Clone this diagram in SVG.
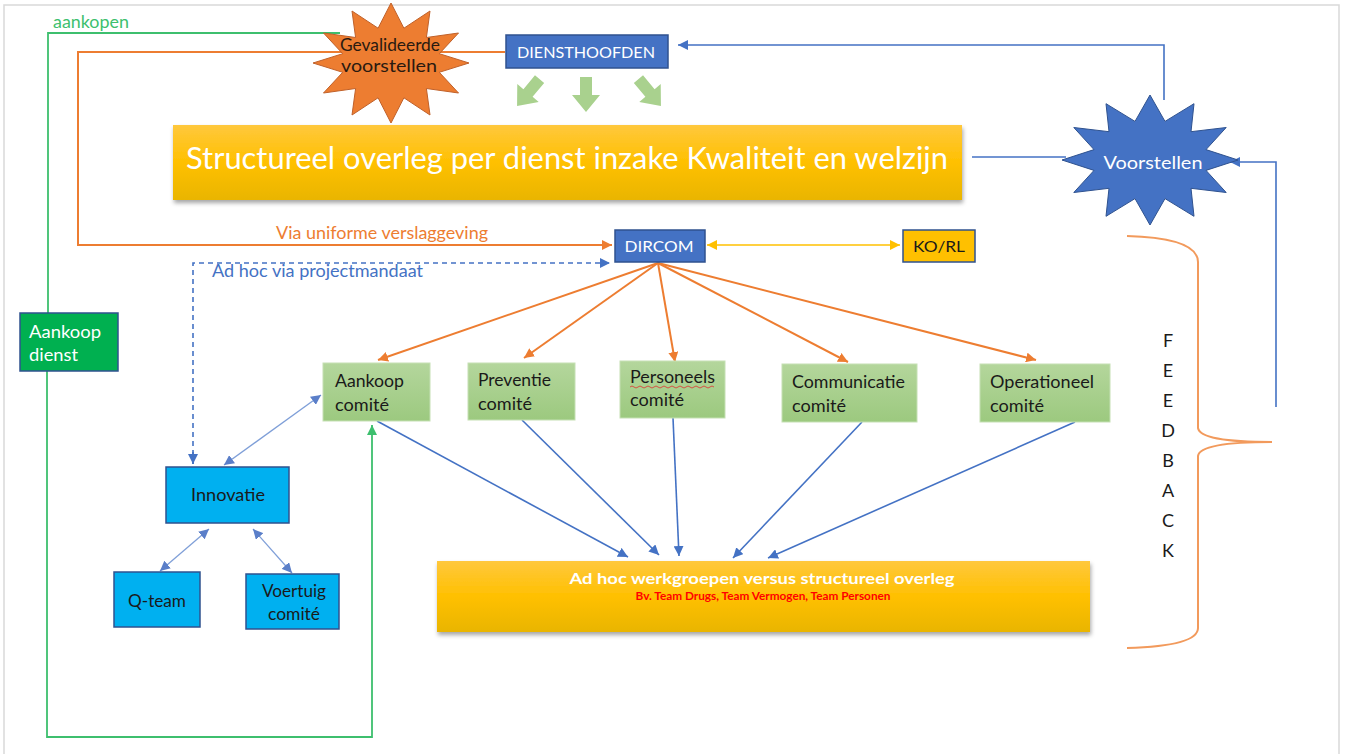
<svg xmlns="http://www.w3.org/2000/svg" width="1345" height="754" viewBox="0 0 1345 754">
<style>
text{font-family:Lato,"Liberation Sans","Open Sans",Arial,sans-serif}
.lbl{font-size:17.5px;fill:#1a1a1a}
.wht{fill:#ffffff}
.org{fill:none;stroke:#ED7D31;stroke-width:2}
.blu{fill:none;stroke:#4472C4;stroke-width:1.6}
.lblu{fill:none;stroke:#7F9FD8;stroke-width:1.3}
.grn{fill:none;stroke:#3DBF6E;stroke-width:1.8}
.bluebox{fill:#4472C4;stroke:#2F528F;stroke-width:1.5}
.cbox{fill:url(#gg);stroke:#C5E0B4;stroke-width:1}
.cyan{fill:#00B0F0;stroke:#2F528F;stroke-width:1.5}
</style>
<defs>
<linearGradient id="yg" x1="0" y1="0" x2="0" y2="1">
<stop offset="0" stop-color="#FFC83D"/><stop offset="0.5" stop-color="#FFC000"/><stop offset="1" stop-color="#E9B500"/>
</linearGradient>
<linearGradient id="gg" x1="0" y1="0" x2="0" y2="1">
<stop offset="0" stop-color="#B4D69C"/><stop offset="1" stop-color="#9CC97F"/>
</linearGradient>
<filter id="sh" x="-5%" y="-10%" width="110%" height="130%">
<feDropShadow dx="1" dy="3" stdDeviation="2" flood-color="#000" flood-opacity="0.35"/>
</filter>
<marker id="ao" markerUnits="userSpaceOnUse" markerWidth="12" markerHeight="10" refX="10" refY="5" orient="auto"><path d="M0,0 L10,5 L0,10 Z" fill="#ED7D31"/></marker>
<marker id="ab" markerUnits="userSpaceOnUse" markerWidth="12" markerHeight="10" refX="10" refY="5" orient="auto"><path d="M0,0 L10,5 L0,10 Z" fill="#4472C4"/></marker>
<marker id="alb" markerUnits="userSpaceOnUse" markerWidth="12" markerHeight="10" refX="10" refY="5" orient="auto-start-reverse"><path d="M0,0 L10,5 L0,10 Z" fill="#5B7FC9"/></marker>
<marker id="ay" markerUnits="userSpaceOnUse" markerWidth="12" markerHeight="10" refX="10" refY="5" orient="auto-start-reverse"><path d="M0,0 L10,5 L0,10 Z" fill="#FFC000"/></marker>
<marker id="ag" markerUnits="userSpaceOnUse" markerWidth="12" markerHeight="10" refX="10" refY="5" orient="auto"><path d="M0,0 L10,5 L0,10 Z" fill="#3DBF6E"/></marker>
<path id="barrow" d="M-6,-18 L6,-18 L6,0 L14,0 L0,17 L-14,0 L-6,0 Z" fill="#A9D18E"/>
</defs>
<rect x="0" y="0" width="1345" height="754" fill="#ffffff"/>
<rect x="4" y="5" width="1335" height="760" fill="none" stroke="#d9d9d9" stroke-width="1.5"/>

<g id="connectors">
<polyline class="grn" points="340,33 48,33 48,314"/>
<polyline class="grn" points="47,371 47,737 372,737 372,425" marker-end="url(#ag)"/>
<text x="53" y="28" font-size="17" fill="#3DBF6E" textLength="76" lengthAdjust="spacingAndGlyphs">aankopen</text>
<polyline class="org" points="505,52 78,52 78,245 612,245" marker-end="url(#ao)"/>
<text x="276" y="239" font-size="17" fill="#ED7D31" textLength="212" lengthAdjust="spacingAndGlyphs">Via uniforme verslaggeving</text>
<polyline class="blu" stroke-dasharray="5,4" points="193,464 193,263 610,263" marker-end="url(#ab)"/>
<path class="blu" d="M193,452 L193,464" marker-end="url(#ab)"/>
<text x="212" y="277" font-size="17" fill="#4472C4" textLength="211" lengthAdjust="spacingAndGlyphs">Ad hoc via projectmandaat</text>
<line x1="707" y1="245" x2="900" y2="245" stroke="#FFC000" stroke-width="1.6" marker-start="url(#ay)" marker-end="url(#ay)"/>
<line class="blu" x1="972" y1="157" x2="1066" y2="157"/>
<polyline class="blu" points="1164,100 1164,45 678,45" marker-end="url(#ab)"/>
<polyline class="blu" points="1276,407 1276,162 1230,162" marker-end="url(#ab)"/>
<line class="org" x1="658" y1="263" x2="378" y2="360" marker-end="url(#ao)"/>
<line class="org" x1="658" y1="263" x2="524" y2="358" marker-end="url(#ao)"/>
<line class="org" x1="658" y1="263" x2="675" y2="362" marker-end="url(#ao)"/>
<line class="org" x1="658" y1="263" x2="848" y2="362" marker-end="url(#ao)"/>
<line class="org" x1="658" y1="263" x2="1036" y2="360" marker-end="url(#ao)"/>
<line class="blu" x1="377" y1="421" x2="628" y2="557" marker-end="url(#ab)"/>
<line class="blu" x1="522" y1="420" x2="659" y2="555" marker-end="url(#ab)"/>
<line class="blu" x1="673" y1="418" x2="679" y2="556" marker-end="url(#ab)"/>
<line class="blu" x1="862" y1="422" x2="733" y2="558" marker-end="url(#ab)"/>
<line class="blu" x1="1075" y1="422" x2="768" y2="558" marker-end="url(#ab)"/>
<line class="lblu" x1="224" y1="465" x2="321" y2="395" marker-start="url(#alb)" marker-end="url(#alb)"/>
<line class="lblu" x1="160" y1="571" x2="209" y2="529" marker-start="url(#alb)" marker-end="url(#alb)"/>
<line class="lblu" x1="292" y1="573" x2="253" y2="529" marker-start="url(#alb)" marker-end="url(#alb)"/>
<path d="M1127,236 Q1198,238 1198,262 L1198,428 Q1200,442 1272,442 Q1200,442 1198,456 L1198,628 Q1198,646 1127,648" fill="none" stroke="#F29A5C" stroke-width="2"/>
</g>

<g id="gevalideerde">
<polygon points="391,3 403.9,28.2 430,11 426.4,37.5 458.5,33 439.3,53.7 469,63 439.3,72.3 458.5,93 426.4,88.5 430,115 403.9,97.8 391,123 378.1,97.8 352,115 355.6,88.5 323.5,93 342.7,72.3 313,63 342.7,53.7 323.5,33 355.6,37.5 352,11 378.1,28.2" fill="#ED7D31" stroke="#C0612A" stroke-width="1"/>
<text x="390" y="51" font-size="16.5" fill="#2a1a10" text-anchor="middle" textLength="100" lengthAdjust="spacingAndGlyphs">Gevalideerde</text>
<text x="389" y="72" font-size="16.5" fill="#2a1a10" text-anchor="middle" textLength="96" lengthAdjust="spacingAndGlyphs">voorstellen</text>
</g>

<g id="diensthoofden">
<rect class="bluebox" x="506" y="35" width="162" height="33"/>
<text x="586" y="58" font-size="15.5" class="wht" text-anchor="middle" textLength="138" lengthAdjust="spacingAndGlyphs">DIENSTHOOFDEN</text>
<use href="#barrow" transform="translate(528,93) rotate(40)"/>
<use href="#barrow" transform="translate(586,95)"/>
<use href="#barrow" transform="translate(650,93) rotate(-40)"/>
</g>

<g id="structureel">
<rect x="173" y="125" width="789" height="75" fill="url(#yg)" filter="url(#sh)"/>
<text x="186" y="169" font-size="31" class="wht" textLength="762" lengthAdjust="spacingAndGlyphs">Structureel overleg per dienst inzake Kwaliteit en welzijn</text>
</g>

<g id="voorstellen">
<polygon points="1150,95 1165,121.4 1194,103.7 1191,131.7 1226.2,127.5 1206,149.6 1238,160 1206,170.4 1226.2,192.5 1191,188.3 1194,216.3 1165,198.6 1150,225 1135,198.6 1106,216.3 1109,188.3 1073.8,192.5 1094,170.4 1062,160 1094,149.6 1073.8,127.5 1109,131.7 1106,103.7 1135,121.4" fill="#4472C4" stroke="#2F528F" stroke-width="1"/>
<text x="1153" y="169" font-size="18" class="wht" text-anchor="middle" textLength="99" lengthAdjust="spacingAndGlyphs">Voorstellen</text>
</g>

<g id="dircom">
<rect class="bluebox" x="615" y="230" width="90" height="32"/>
<text x="659" y="252" font-size="16" class="wht" text-anchor="middle" textLength="69" lengthAdjust="spacingAndGlyphs">DIRCOM</text>
</g>

<g id="korl">
<rect x="903" y="230" width="72" height="32" fill="#FFC000" stroke="#2F528F" stroke-width="1.5"/>
<text x="939" y="252" font-size="16" fill="#1a1a1a" text-anchor="middle" textLength="52" lengthAdjust="spacingAndGlyphs">KO/RL</text>
</g>

<g id="aankoopdienst">
<rect x="20" y="313" width="98" height="58" fill="#00B050" stroke="#2F528F" stroke-width="1.5"/>
<text x="29" y="338" font-size="17.5" class="wht" textLength="72" lengthAdjust="spacingAndGlyphs">Aankoop</text>
<text x="29" y="361" font-size="17.5" class="wht" textLength="49" lengthAdjust="spacingAndGlyphs">dienst</text>
</g>

<g id="aankoopcomite">
<rect class="cbox" x="323" y="363" width="107" height="58"/>
<text x="335" y="387" class="lbl" textLength="69" lengthAdjust="spacingAndGlyphs">Aankoop</text>
<text x="335" y="411" class="lbl" textLength="54" lengthAdjust="spacingAndGlyphs">comité</text>
</g>
<g id="preventiecomite">
<rect class="cbox" x="468" y="363" width="107" height="57"/>
<text x="478" y="386" class="lbl" textLength="73" lengthAdjust="spacingAndGlyphs">Preventie</text>
<text x="478" y="410" class="lbl" textLength="54" lengthAdjust="spacingAndGlyphs">comité</text>
</g>
<g id="personeelscomite">
<rect class="cbox" x="620" y="361" width="105" height="57"/>
<text x="630" y="383" class="lbl" textLength="85" lengthAdjust="spacingAndGlyphs">Personeels</text>
<path d="M630,387 q2,-2 4,0 t4,0 t4,0 t4,0 t4,0 t4,0 t4,0 t4,0 t4,0 t4,0 t4,0 t4,0 t4,0 t4,0 t4,0 t4,0 t4,0 t4,0 t4,0 t4,0 t4,0" fill="none" stroke="#E03030" stroke-width="0.8"/>
<text x="630" y="406" class="lbl" textLength="54" lengthAdjust="spacingAndGlyphs">comité</text>
</g>
<g id="communicatiecomite">
<rect class="cbox" x="782" y="364" width="135" height="58"/>
<text x="792" y="388" class="lbl" textLength="113" lengthAdjust="spacingAndGlyphs">Communicatie</text>
<text x="792" y="412" class="lbl" textLength="54" lengthAdjust="spacingAndGlyphs">comité</text>
</g>
<g id="operationeelcomite">
<rect class="cbox" x="980" y="364" width="130" height="58"/>
<text x="990" y="388" class="lbl" textLength="104" lengthAdjust="spacingAndGlyphs">Operationeel</text>
<text x="990" y="412" class="lbl" textLength="54" lengthAdjust="spacingAndGlyphs">comité</text>
</g>

<g id="innovatie">
<rect class="cyan" x="166" y="467" width="123" height="56"/>
<text x="228" y="501" class="lbl" text-anchor="middle" textLength="74" lengthAdjust="spacingAndGlyphs">Innovatie</text>
</g>
<g id="qteam">
<rect class="cyan" x="114" y="572" width="86" height="55"/>
<text x="157" y="607" class="lbl" text-anchor="middle" textLength="58" lengthAdjust="spacingAndGlyphs">Q-team</text>
</g>
<g id="voertuigcomite">
<rect class="cyan" x="246" y="574" width="93" height="55"/>
<text x="294" y="597" class="lbl" text-anchor="middle" textLength="64" lengthAdjust="spacingAndGlyphs">Voertuig</text>
<text x="294" y="620" class="lbl" text-anchor="middle" textLength="52" lengthAdjust="spacingAndGlyphs">comité</text>
</g>

<g id="adhoc">
<rect x="437" y="561" width="653" height="71" fill="url(#yg)" filter="url(#sh)"/>
<text x="762" y="584" font-size="16" font-weight="bold" class="wht" text-anchor="middle" textLength="385" lengthAdjust="spacingAndGlyphs">Ad hoc werkgroepen versus structureel overleg</text>
<text x="763" y="600" font-size="11" font-weight="bold" fill="#FF0000" text-anchor="middle" textLength="255" lengthAdjust="spacingAndGlyphs">Bv. Team Drugs, Team Vermogen, Team Personen</text>
</g>

<g id="feedback" font-size="18" fill="#1a1a1a">
<text x="1168" y="347" text-anchor="middle">F</text>
<text x="1168" y="377" text-anchor="middle">E</text>
<text x="1168" y="407" text-anchor="middle">E</text>
<text x="1168" y="437" text-anchor="middle">D</text>
<text x="1168" y="467" text-anchor="middle">B</text>
<text x="1168" y="497" text-anchor="middle">A</text>
<text x="1168" y="527" text-anchor="middle">C</text>
<text x="1168" y="557" text-anchor="middle">K</text>
</g>
</svg>
